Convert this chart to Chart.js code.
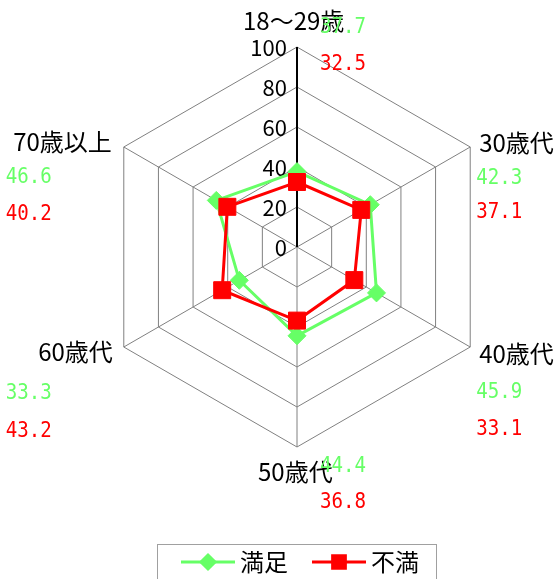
<!DOCTYPE html>
<html>
<head>
<meta charset="utf-8">
<script src="https://cdn.jsdelivr.net/npm/chart.js@4/dist/chart.umd.min.js"></script>
<style>
    body { margin: 0; background: #fff; }
</style>
</head>
<body>
<canvas id="radar" width="559" height="579"></canvas>
<script>
var categories = ['18～29歳', '30歳代', '40歳代', '50歳代', '60歳代', '70歳以上'];
var seriesNames = ['満足', '不満'];
var satisfied = [37.7, 42.3, 45.9, 44.4, 33.3, 46.6];
var dissatisfied = [32.5, 37.1, 33.1, 36.8, 43.2, 40.2];
var tickValues = [0, 20, 40, 60, 80, 100];

var green = '#66ff66';
var red = '#ff0000';
var labelFont = '24px "Noto Sans CJK JP"';
var valueFont = '22px "DejaVu Sans Mono"';

// where each category label and its two values sit, relative to the outer vertex
var labelPos = [
    { align: 'left',  dx: -54, dy: -26, vdx: 23,   vdy: [-20, 17] },
    { align: 'left',  dx: 9,   dy: -4,  vdx: 6,    vdy: [31, 65] },
    { align: 'left',  dx: 9,   dy: 7,   vdx: 6,    vdy: [45, 82] },
    { align: 'left',  dx: -39, dy: 25,  vdx: 23,   vdy: [19, 55] },
    { align: 'right', dx: -11, dy: 5,   vdx: -118, vdy: [46, 84] },
    { align: 'right', dx: -12, dy: -5,  vdx: -118, vdy: [30, 67] }
];

var tickLabels = {
    id: 'tickLabels',
    beforeDatasetsDraw: function (chart) {
        var scale = chart.scales.r;
        var ctx = chart.ctx;
        ctx.save();
        ctx.font = '22px "Noto Sans CJK JP"';
        ctx.fillStyle = '#000';
        ctx.textAlign = 'right';
        ctx.textBaseline = 'middle';
        tickValues.forEach(function (v) {
            var y = scale.yCenter - scale.getDistanceFromCenterForValue(v);
            ctx.fillText(String(v), scale.xCenter - 10, y + 1);
        });
        ctx.restore();
    }
};

var categoryLabels = {
    id: 'categoryLabels',
    afterDatasetsDraw: function (chart) {
        var scale = chart.scales.r;
        var ctx = chart.ctx;
        var colors = [green, red];
        ctx.save();
        ctx.textBaseline = 'middle';
        categories.forEach(function (name, i) {
            var p = scale.getPointPosition(i, scale.drawingArea);
            var pos = labelPos[i];
            ctx.font = labelFont;
            ctx.fillStyle = '#000';
            ctx.textAlign = pos.align;
            ctx.fillText(name, p.x + pos.dx, p.y + pos.dy);
            ctx.font = valueFont;
            ctx.textAlign = 'left';
            chart.data.datasets.forEach(function (ds, k) {
                // narrow monospace digits, like the original
                ctx.save();
                ctx.translate(p.x + pos.vdx, p.y + pos.vdy[k]);
                ctx.scale(0.87, 1);
                ctx.fillStyle = colors[k];
                ctx.fillText(ds.data[i].toFixed(1), 0, 0);
                ctx.restore();
            });
        });
        ctx.restore();
    }
};

var boxLegend = {
    id: 'boxLegend',
    afterDraw: function (chart) {
        var ctx = chart.ctx;
        var starts = [181, 312];
        ctx.save();
        ctx.strokeStyle = '#a0a0a0';
        ctx.lineWidth = 1;
        ctx.strokeRect(157.5, 544.5, 279, 60);
        ctx.font = labelFont;
        ctx.textBaseline = 'middle';
        ctx.textAlign = 'left';
        chart.data.datasets.forEach(function (ds, k) {
            var x = starts[k];
            var y = 562;
            ctx.strokeStyle = ds.borderColor;
            ctx.lineWidth = 3;
            ctx.beginPath();
            ctx.moveTo(x, y);
            ctx.lineTo(x + 54, y);
            ctx.stroke();
            ctx.fillStyle = ds.pointBackgroundColor;
            ctx.strokeStyle = ds.pointBorderColor;
            Chart.helpers.drawPoint(ctx, {
                pointStyle: ds.pointStyle,
                radius: ds.pointStyle === 'rect' ? 9 : 7,
                borderWidth: 1,
                rotation: 0
            }, x + 27, y);
            ctx.fillStyle = '#000';
            ctx.fillText(ds.label, x + 59, y);
        });
        ctx.restore();
    }
};

new Chart(document.getElementById('radar'), {
    type: 'radar',
    data: {
        labels: categories,
        datasets: [{
            label: seriesNames[0],
            data: satisfied,
            borderColor: green,
            borderWidth: 3,
            backgroundColor: 'transparent',
            fill: false,
            pointStyle: 'rectRot',
            pointRadius: 9,
            pointBackgroundColor: green,
            pointBorderColor: green,
            pointBorderWidth: 1,
            order: 2
        }, {
            label: seriesNames[1],
            data: dissatisfied,
            borderColor: red,
            borderWidth: 3,
            backgroundColor: 'transparent',
            fill: false,
            pointStyle: 'rect',
            pointRadius: 12,
            pointBackgroundColor: red,
            pointBorderColor: red,
            pointBorderWidth: 1,
            order: 1
        }]
    },
    options: {
        responsive: false,
        animation: false,
        layout: { padding: { left: 97, right: 62, top: 47, bottom: 132 } },
        plugins: {
            legend: { display: false },
            tooltip: { enabled: false }
        },
        elements: { line: { tension: 0 } },
        scales: {
            r: {
                min: 0,
                max: 100,
                ticks: { display: false, stepSize: 20 },
                pointLabels: { display: false },
                grid: { color: '#808080', lineWidth: 1 },
                angleLines: {
                    color: function (c) { return c.index === 0 ? '#000' : '#808080'; },
                    lineWidth: function (c) { return c.index === 0 ? 2 : 1; }
                }
            }
        }
    },
    plugins: [tickLabels, categoryLabels, boxLegend]
});
</script>
</body>
</html>
